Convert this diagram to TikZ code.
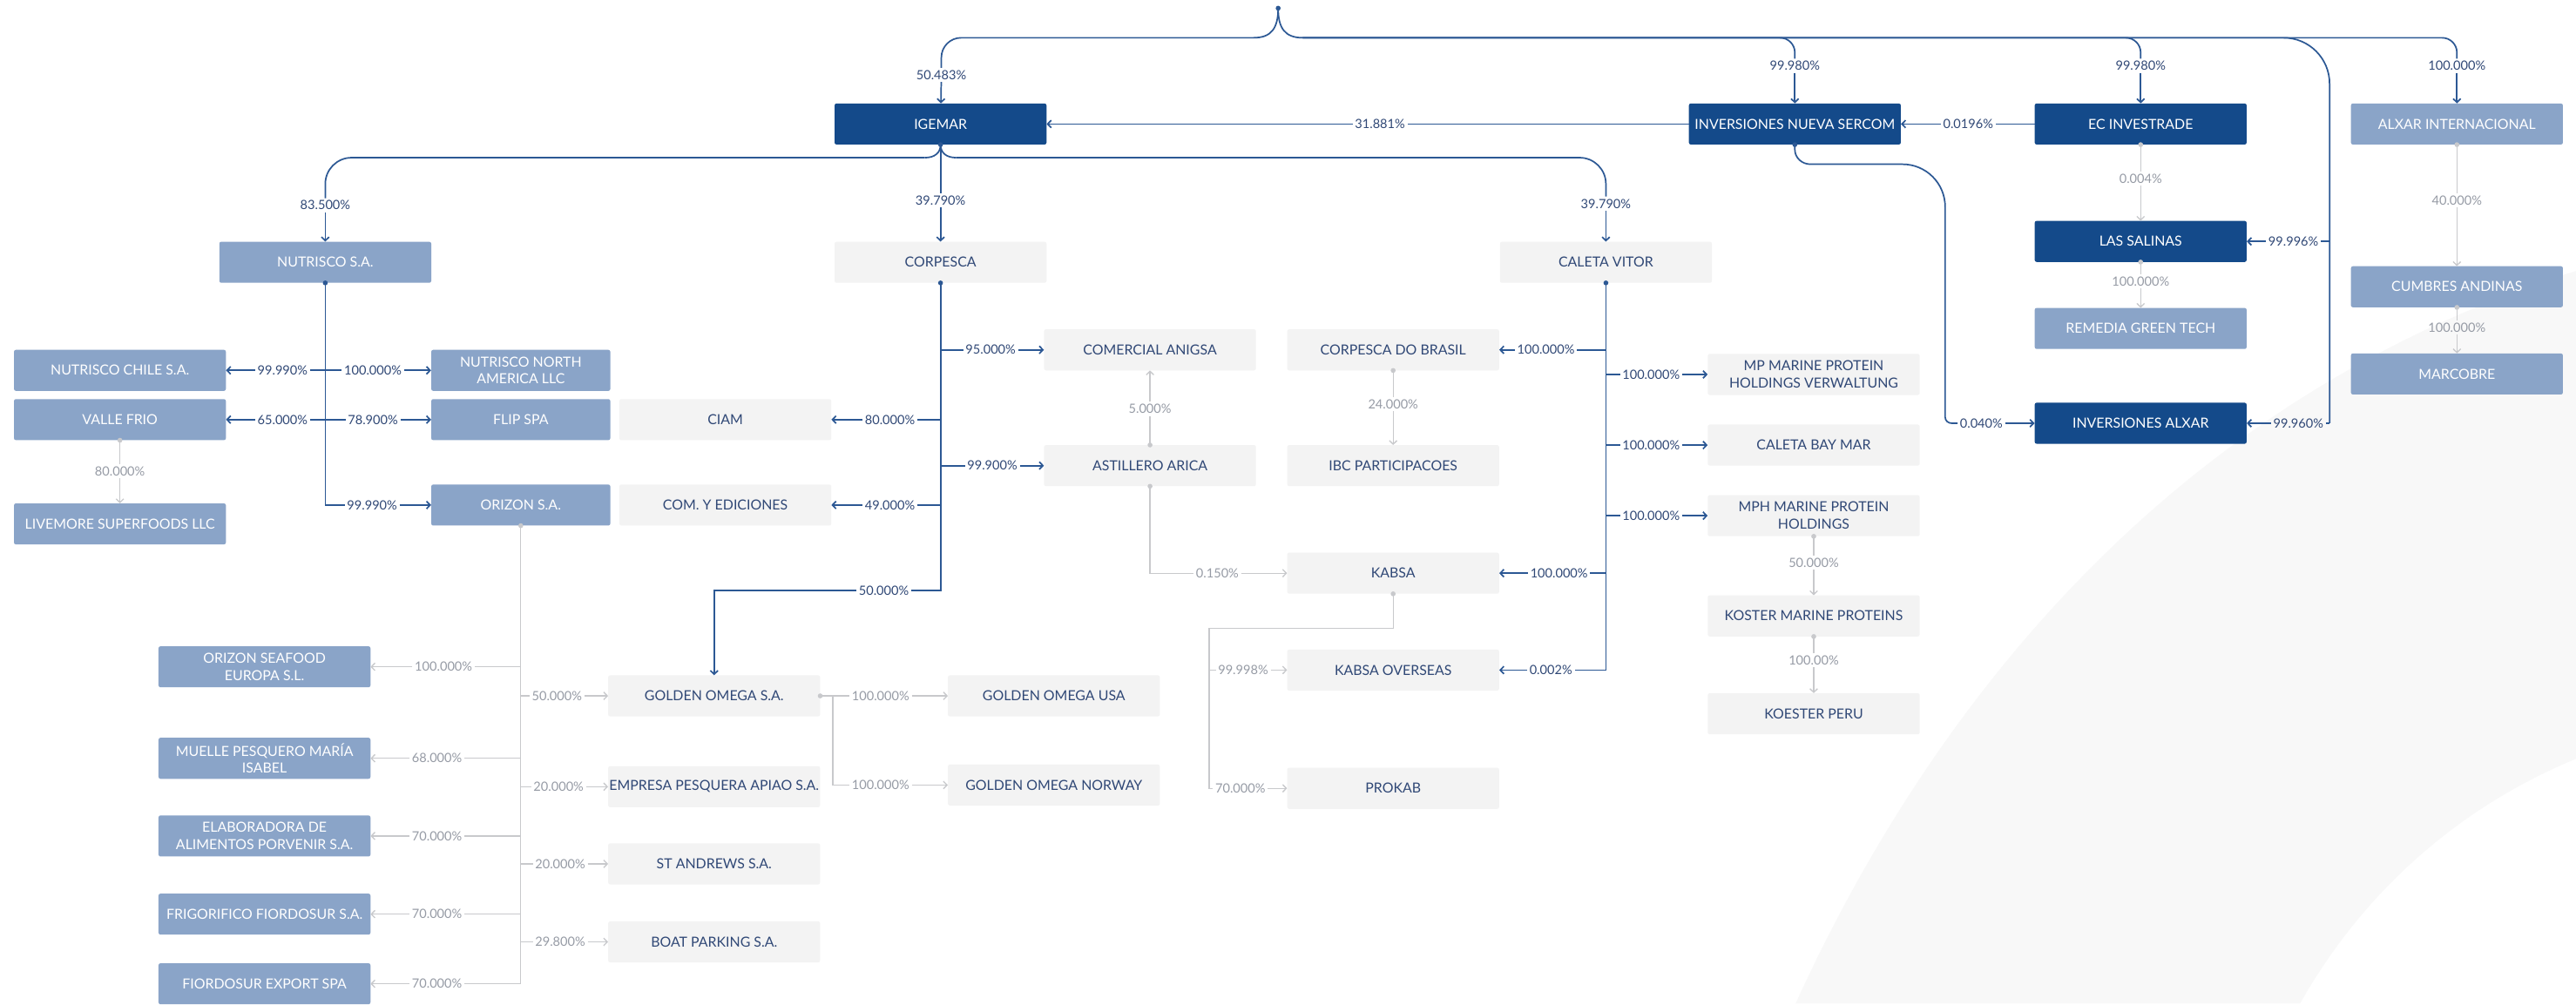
\documentclass[tikz,border=0pt]{standalone}
\usepackage{fontspec}
\setmainfont{Lato}
\usetikzlibrary{arrows.meta}
\definecolor{darkblue}{RGB}{20,74,138}
\definecolor{midblue}{RGB}{138,164,200}
\definecolor{boxgrey}{RGB}{243,243,243}
\definecolor{bandgrey}{RGB}{248,248,248}
\definecolor{linkblue}{RGB}{44,88,148}
\definecolor{linkgrey}{RGB}{200,201,204}
\definecolor{txtblue}{RGB}{48,72,118}
\definecolor{txtgrey}{RGB}{150,155,165}
\begin{document}
\begin{tikzpicture}[x=1mm, y=-1mm, >={Straight Barb[length=2.2mm,width=4.6mm]},
    box/.style={rounded corners=1.2mm, minimum width=129mm, minimum height=25mm,
        inner sep=0pt, align=center, font=\fontsize{24}{30}\selectfont},
    dbox/.style={box, fill=darkblue, text=white},
    mbox/.style={box, fill=midblue, text=white},
    gbox/.style={box, fill=boxgrey, text=txtblue},
    narrow/.style={minimum width=109mm},
    pct/.style={inner sep=1.4mm, text=txtblue, font=\fontsize{22}{24}\selectfont},
    lpct/.style={pct, text=txtgrey},
    link/.style={draw=linkblue, line width=2.6pt},
    llink/.style={draw=linkgrey, line width=2pt},
    dot/.style={circle, fill=linkblue, inner sep=0pt, minimum size=3mm},
    ldot/.style={dot, fill=linkgrey}]
    % Nền
    \fill[white] (0,0) rectangle (1568,611);
    \fill[bandgrey] (1093,611) .. controls (1180,420) and (1330,240) .. (1568,165)
        -- (1568,462) .. controls (1500,490) and (1440,540) .. (1400,611) -- cycle;

    % Hàng trên cùng
    \node[dbox] (igemar) at (572.5,75.5) {IGEMAR};
    \node[dbox] (sercom) at (1092.5,75.5) {INVERSIONES NUEVA SERCOM};
    \node[dbox] (ecinv) at (1303,75.5) {EC INVESTRADE};
    \node[mbox] (alxarint) at (1495.5,75.5) {ALXAR INTERNACIONAL};

    % Hàng thứ hai
    \node[mbox] (nutrisco) at (198,159.7) {NUTRISCO S.A.};
    \node[gbox] (corpesca) at (572.5,159.7) {CORPESCA};
    \node[gbox] (caleta) at (977.5,159.7) {CALETA VITOR};

    % Nhánh bên phải
    \node[dbox] (salinas) at (1303,147) {LAS SALINAS};
    \node[mbox] (remedia) at (1303,200) {REMEDIA GREEN TECH};
    \node[dbox] (invalxar) at (1303,257.7) {INVERSIONES ALXAR};
    \node[mbox] (cumbres) at (1495.5,174.6) {CUMBRES ANDINAS};
    \node[mbox] (marcobre) at (1495.5,227.7) {MARCOBRE};

    % Nhánh Nutrisco
    \node[mbox] (nchile) at (73,225.5) {NUTRISCO CHILE S.A.};
    \node[mbox, narrow] (nnorth) at (317,225.5) {NUTRISCO NORTH\\AMERICA LLC};
    \node[mbox] (vfrio) at (73,255.5) {VALLE FRIO};
    \node[mbox, narrow] (flip) at (317,255.5) {FLIP SPA};
    \node[mbox] (livemore) at (73,319) {LIVEMORE SUPERFOODS LLC};
    \node[mbox, narrow] (orizon) at (317,307.5) {ORIZON S.A.};

    % Nhánh Corpesca
    \node[gbox] (ciam) at (441.5,255.5) {CIAM};
    \node[gbox] (comyed) at (441.5,307.5) {COM. Y EDICIONES};
    \node[gbox] (anigsa) at (700,213) {COMERCIAL ANIGSA};
    \node[gbox] (astillero) at (700,283.5) {ASTILLERO ARICA};
    \node[gbox] (cbrasil) at (848,213) {CORPESCA DO BRASIL};
    \node[gbox] (ibc) at (848,283.5) {IBC PARTICIPACOES};
    \node[gbox] (kabsa) at (848,349) {KABSA};
    \node[gbox] (kabsaov) at (848,408) {KABSA OVERSEAS};
    \node[gbox] (prokab) at (848,480) {PROKAB};

    % Nhánh Caleta Vitor
    \node[gbox] (mpverw) at (1104,228) {MP MARINE PROTEIN\\HOLDINGS VERWALTUNG};
    \node[gbox] (cbaymar) at (1104,271) {CALETA BAY MAR};
    \node[gbox] (mph) at (1104,314) {MPH MARINE PROTEIN\\HOLDINGS};
    \node[gbox] (koster) at (1104,375) {KOSTER MARINE PROTEINS};
    \node[gbox] (koesterperu) at (1104,434.6) {KOESTER PERU};

    % Nhánh Orizon
    \node[mbox] (oseafood) at (161,406) {ORIZON SEAFOOD\\EUROPA S.L.};
    \node[mbox] (muelle) at (161,461.7) {MUELLE PESQUERO MARÍA\\ISABEL};
    \node[mbox] (elabor) at (161,509) {ELABORADORA DE\\ALIMENTOS PORVENIR S.A.};
    \node[mbox] (frigo) at (161,556.6) {FRIGORIFICO FIORDOSUR S.A.};
    \node[mbox] (fexport) at (161,599) {FIORDOSUR EXPORT SPA};
    \node[gbox] (gomega) at (434.7,423.7) {GOLDEN OMEGA S.A.};
    \node[gbox] (apiao) at (434.7,479) {EMPRESA PESQUERA APIAO S.A.};
    \node[gbox] (standrews) at (434.7,526) {ST ANDREWS S.A.};
    \node[gbox] (boatp) at (434.7,573.5) {BOAT PARKING S.A.};
    \node[gbox] (gousa) at (641.5,423.7) {GOLDEN OMEGA USA};
    \node[gbox] (gonorway) at (641.5,478) {GOLDEN OMEGA NORWAY};

    % Tỷ lệ sở hữu
    \node[pct] (p50483) at (573,45.6) {50.483\%};
    \node[pct] (p99980a) at (1092.5,40) {99.980\%};
    \node[pct] (p99980b) at (1303,40) {99.980\%};
    \node[pct] (p100alx) at (1495.5,40) {100.000\%};
    \node[pct] (p31881) at (840,75.5) {31.881\%};
    \node[pct] (p00196) at (1198,75.5) {0.0196\%};
    \node[pct] (p83500) at (198,125) {83.500\%};
    \node[pct] (p39790a) at (572.5,122) {39.790\%};
    \node[pct] (p39790b) at (977.5,124) {39.790\%};
    \node[lpct] (p0004) at (1303,108.7) {0.004\%};
    \node[lpct] (p100rem) at (1303,171.4) {100.000\%};
    \node[pct] (p99996) at (1396,147) {99.996\%};
    \node[pct] (p99960) at (1399,257.7) {99.960\%};
    \node[pct] (p0040) at (1206,257.7) {0.040\%};
    \node[lpct] (p40000) at (1495.5,122) {40.000\%};
    \node[lpct] (p100mar) at (1495.5,199.4) {100.000\%};
    \node[pct] (p99990a) at (172,225.5) {99.990\%};
    \node[pct] (p100nna) at (227,225.5) {100.000\%};
    \node[pct] (p65000) at (172,255.5) {65.000\%};
    \node[pct] (p78900) at (227,255.5) {78.900\%};
    \node[pct] (p99990b) at (226.5,307.5) {99.990\%};
    \node[lpct] (p80000) at (73,287) {80.000\%};
    \node[pct] (p95000) at (603,213) {95.000\%};
    \node[pct] (p80000c) at (541.7,255.5) {80.000\%};
    \node[pct] (p99900) at (604,283.5) {99.900\%};
    \node[pct] (p49000) at (541.7,307.5) {49.000\%};
    \node[pct] (p50000) at (538,359.6) {50.000\%};
    \node[lpct] (p5000) at (700,249) {5.000\%};
    \node[lpct] (p24000) at (848,246) {24.000\%};
    \node[lpct] (p0150) at (741,349) {0.150\%};
    \node[lpct] (p99998) at (756.7,408) {99.998\%};
    \node[lpct] (p70000k) at (755,480) {70.000\%};
    \node[pct] (p100cb) at (941,213) {100.000\%};
    \node[pct] (p100mp) at (1005,228) {100.000\%};
    \node[pct] (p100cbm) at (1005,271) {100.000\%};
    \node[pct] (p100mph) at (1005,314) {100.000\%};
    \node[pct] (p100kb) at (949,349) {100.000\%};
    \node[pct] (p0002) at (944,408) {0.002\%};
    \node[lpct] (p50000m) at (1104,342.5) {50.000\%};
    \node[lpct] (p10000k) at (1104,402) {100.00\%};
    \node[lpct] (p100os) at (270,406) {100.000\%};
    \node[lpct] (p68000) at (266,461.7) {68.000\%};
    \node[lpct] (p70000e) at (266,509) {70.000\%};
    \node[lpct] (p70000f) at (266,556.6) {70.000\%};
    \node[lpct] (p70000x) at (266,599) {70.000\%};
    \node[lpct] (p50000g) at (339,423.7) {50.000\%};
    \node[lpct] (p20000a) at (340,479) {20.000\%};
    \node[lpct] (p20000s) at (341,526) {20.000\%};
    \node[lpct] (p29800) at (341,573.5) {29.800\%};
    \node[lpct] (p100gu) at (536,423.7) {100.000\%};
    \node[lpct] (p100gn) at (536,478) {100.000\%};

    % Đường nối từ gốc
    \node[dot] (root) at (778,5) {};
    \coordinate (busL) at (763,23);
    \coordinate (busR) at (793,23);
    \coordinate (jalx) at (1418,257.7);
    \draw[link] (root.center) .. controls (778,17) and (774,23) .. (busL);
    \draw[link] (root.center) .. controls (778,17) and (782,23) .. (busR);
    \draw[link, rounded corners=12mm] (busL) -- (p50483 |- busL) -- (p50483);
    \foreach \p in {p99980a, p99980b, p100alx}
        \draw[link, rounded corners=9mm] (busR) -- (\p |- busR) -- (\p);
    \draw[link, rounded corners=28mm] (busR) -- (jalx |- busR) -- (jalx);
    \draw[link] (jalx) -- (p99960);
    \draw[link] (jalx |- salinas) -- (p99996);
    \foreach \p/\b in {p50483/igemar, p99980a/sercom, p99980b/ecinv, p100alx/alxarint,
        p99996/salinas, p99960/invalxar, p31881/igemar, p00196/sercom}
        \draw[link, ->] (\p) -- (\b);
    \draw[link] (sercom) -- (p31881);
    \draw[link] (ecinv) -- (p00196);

    % Sercom -> Inversiones Alxar
    \node[dot] (sedot) at (sercom.south) {};
    \draw[link] (sercom.south) -- (1092.5,91) to[out=-90, in=180] (1102,100) -- (1158,100)
        to[out=0, in=90] (1184,126) -- (1184,254) to[out=-90, in=180] (1188,257.7) -- (p0040);
    \draw[link, ->] (p0040) -- (invalxar);

    % Igemar
    \node[dot] (igdot) at (igemar.south) {};
    \coordinate (igL) at (563,96);
    \coordinate (igR) at (582,96);
    \draw[link] (igemar.south) .. controls (572.5,93) and (569,96) .. (igL);
    \draw[link] (igemar.south) .. controls (572.5,93) and (576,96) .. (igR);
    \draw[link, rounded corners=16mm] (igL) -- (p83500 |- igL) -- (p83500);
    \draw[link, rounded corners=16mm] (igR) -- (p39790b |- igR) -- (p39790b);
    \draw[link] (igemar.south) -- (p39790a);
    \foreach \p/\b in {p83500/nutrisco, p39790a/corpesca, p39790b/caleta}
        \draw[link, ->] (\p) -- (\b);

    % Nutrisco
    \node[dot] (nudot) at (nutrisco.south) {};
    \draw[link] (nutrisco.south) |- (p99990b);
    \foreach \p/\b in {p99990a/nchile, p100nna/nnorth, p65000/vfrio, p78900/flip} {
        \draw[link] (nutrisco.south |- \b) -- (\p);
        \draw[link, ->] (\p) -- (\b);
    }
    \draw[link, ->] (p99990b) -- (orizon);

    % Corpesca
    \node[dot] (codot) at (corpesca.south) {};
    \draw[link] (corpesca.south) |- (p50000);
    \draw[link, ->] (p50000) -| (gomega);
    \foreach \p/\b in {p95000/anigsa, p80000c/ciam, p99900/astillero, p49000/comyed} {
        \draw[link] (corpesca.south |- \b) -- (\p);
        \draw[link, ->] (\p) -- (\b);
    }

    % Caleta Vitor
    \node[dot] (cadot) at (caleta.south) {};
    \draw[link] (caleta.south) |- (p0002);
    \draw[link, ->] (p0002) -- (kabsaov);
    \foreach \p/\b in {p100cb/cbrasil, p100mp/mpverw, p100cbm/cbaymar, p100mph/mph, p100kb/kabsa} {
        \draw[link] (caleta.south |- \b) -- (\p);
        \draw[link, ->] (\p) -- (\b);
    }

    % Các đường nhạt theo chiều dọc
    \foreach \a/\p/\b in {ecinv/p0004/salinas, salinas/p100rem/remedia,
        alxarint/p40000/cumbres, cumbres/p100mar/marcobre, vfrio/p80000/livemore,
        cbrasil/p24000/ibc, mph/p50000m/koster, koster/p10000k/koesterperu} {
        \node[ldot] (\a dot) at (\a.south) {};
        \draw[llink] (\a.south) -- (\p);
        \draw[llink, ->] (\p) -- (\b);
    }
    \node[ldot] (asdot) at (astillero.north) {};
    \draw[llink] (astillero.north) -- (p5000);
    \draw[llink, ->] (p5000) -- (anigsa);

    % Astillero -> Kabsa
    \node[ldot] (asdot2) at (astillero.south) {};
    \draw[llink] (astillero.south) |- (p0150);
    \draw[llink, ->] (p0150) -- (kabsa);

    % Kabsa
    \node[ldot] (kadot) at (kabsa.south) {};
    \coordinate (kj) at (736,382.6);
    \draw[llink] (kabsa.south) |- (kj) |- (p70000k);
    \draw[llink] (kj |- kabsaov) -- (p99998);
    \draw[llink, ->] (p99998) -- (kabsaov);
    \draw[llink, ->] (p70000k) -- (prokab);

    % Orizon
    \node[ldot] (ordot) at (orizon.south) {};
    \draw[llink] (orizon.south) |- (p70000x);
    \foreach \p/\b in {p100os/oseafood, p68000/muelle, p70000e/elabor, p70000f/frigo,
        p50000g/gomega, p20000a/apiao, p20000s/standrews, p29800/boatp}
        \draw[llink] (orizon.south |- \b) -- (\p);
    \foreach \p/\b in {p100os/oseafood, p68000/muelle, p70000e/elabor, p70000f/frigo,
        p70000x/fexport, p50000g/gomega, p20000a/apiao, p20000s/standrews, p29800/boatp}
        \draw[llink, ->] (\p) -- (\b);

    % Golden Omega
    \node[ldot] (godot) at (gomega.east) {};
    \coordinate (gj) at (507,423.7);
    \draw[llink] (gomega.east) -- (p100gu);
    \draw[llink] (gj) |- (p100gn);
    \draw[llink, ->] (p100gu) -- (gousa);
    \draw[llink, ->] (p100gn) -- (gonorway);
\end{tikzpicture}
\end{document}
